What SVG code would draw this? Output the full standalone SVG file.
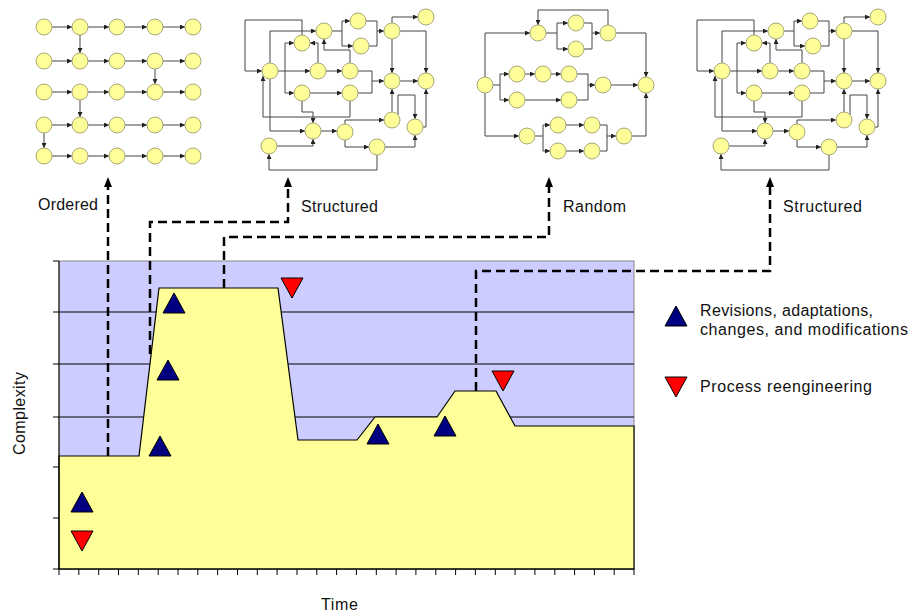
<svg xmlns="http://www.w3.org/2000/svg" xmlns:xlink="http://www.w3.org/1999/xlink" width="911" height="616" viewBox="0 0 911 616">
<style>
.e{fill:none;stroke:#444;stroke-width:1;marker-end:url(#na)}
.l{fill:none;stroke:#444;stroke-width:1}
.n{fill:#ffff99;stroke:#a8a878;stroke-width:1}
.t{font-family:"Liberation Sans",Arial,sans-serif;font-size:16px;fill:#111}
.d{fill:none;stroke:#000;stroke-width:2.5;stroke-dasharray:9 5;marker-end:url(#da)}
.up{fill:#000080;stroke:#000;stroke-width:1}
.dn{fill:#ff0000;stroke:#000;stroke-width:1}
.tk{fill:none;stroke:#000;stroke-width:1}
</style>
<defs>
<marker id="na" viewBox="0 0 6 6" refX="6" refY="3" markerWidth="5" markerHeight="5" orient="auto" markerUnits="userSpaceOnUse"><path d="M0,0 L6,3 L0,6 z" fill="#222"/></marker>
<marker id="da" viewBox="0 0 10 8" refX="0" refY="4" markerWidth="10" markerHeight="8" orient="auto" markerUnits="userSpaceOnUse"><path d="M0,0 L10,4 L0,8 z" fill="#000"/></marker>
<path id="tu" d="M0,-10 L11,10 L-11,10 z"/>
<path id="td" d="M-11,-10 L11,-10 L0,10 z"/>
</defs>
<rect width="911" height="616" fill="#fff"/>

<g id="ordered">
<path class="e" d="M52,27H72"/><path class="e" d="M88,27H109"/><path class="e" d="M125,27H147"/><path class="e" d="M163,27H185"/>
<path class="e" d="M52,61H72"/><path class="e" d="M88,61H109"/><path class="e" d="M125,61H147"/><path class="e" d="M163,61H185"/>
<path class="e" d="M52,92H72"/><path class="e" d="M88,92H109"/><path class="e" d="M125,92H147"/><path class="e" d="M163,92H185"/>
<path class="e" d="M52,125H72"/><path class="e" d="M88,125H109"/><path class="e" d="M125,125H147"/><path class="e" d="M163,125H185"/>
<path class="e" d="M52,156H72"/><path class="e" d="M88,156H109"/><path class="e" d="M125,156H147"/><path class="e" d="M163,156H185"/>
<path class="e" d="M80,35V53"/><path class="e" d="M155,69V84"/><path class="e" d="M80,100V117"/><path class="e" d="M44,133V148"/>
<g class="n">
<circle cx="44" cy="27" r="8"/><circle cx="80" cy="27" r="8"/><circle cx="117" cy="27" r="8"/><circle cx="155" cy="27" r="8"/><circle cx="193" cy="27" r="8"/>
<circle cx="44" cy="61" r="8"/><circle cx="80" cy="61" r="8"/><circle cx="117" cy="61" r="8"/><circle cx="155" cy="61" r="8"/><circle cx="193" cy="61" r="8"/>
<circle cx="44" cy="92" r="8"/><circle cx="80" cy="92" r="8"/><circle cx="117" cy="92" r="8"/><circle cx="155" cy="92" r="8"/><circle cx="193" cy="92" r="8"/>
<circle cx="44" cy="125" r="8"/><circle cx="80" cy="125" r="8"/><circle cx="117" cy="125" r="8"/><circle cx="155" cy="125" r="8"/><circle cx="193" cy="125" r="8"/>
<circle cx="44" cy="156" r="8"/><circle cx="80" cy="156" r="8"/><circle cx="117" cy="156" r="8"/><circle cx="155" cy="156" r="8"/><circle cx="193" cy="156" r="8"/>
</g>
</g>

<g id="structured1">
<path class="e" d="M302,35V20H245V71H262"/>
<path class="e" d="M270,63V31H316"/>
<path class="l" d="M332,31H342"/>
<path class="e" d="M342,31V21H350"/>
<path class="e" d="M342,31V46H353"/>
<path class="l" d="M366,21H377V31"/>
<path class="e" d="M369,46H377V31H384"/>
<path class="e" d="M392,23V17H418"/>
<path class="e" d="M400,31H426V73"/>
<path class="e" d="M392,39V73"/>
<path class="e" d="M400,81H418"/>
<path class="l" d="M285,43V93"/>
<path class="e" d="M285,43H294"/>
<path class="e" d="M285,93H294"/>
<path class="e" d="M318,63V43H310"/>
<path class="e" d="M350,63V50H324V39"/>
<path class="e" d="M278,71H310"/>
<path class="e" d="M326,71H342"/>
<path class="e" d="M358,71H372V81H384"/>
<path class="l" d="M358,93H372V81"/>
<path class="e" d="M310,93H342"/>
<path class="e" d="M302,101V112H313V123"/>
<path class="e" d="M350,101V117H263V76"/>
<path class="e" d="M270,79V131H305"/>
<path class="e" d="M321,131H337"/>
<path class="e" d="M345,124V120H384"/>
<path class="e" d="M345,140V147H369"/>
<path class="e" d="M277,146H313V139"/>
<path class="e" d="M377,155V170H269V154"/>
<path class="e" d="M385,147H415V135"/>
<path class="e" d="M392,112V89"/>
<path class="e" d="M398,115V95H415V119"/>
<path class="e" d="M423,127H426V89"/>
<g class="n">
<circle cx="358" cy="21" r="8"/><circle cx="361" cy="46" r="8"/><circle cx="324" cy="31" r="8"/><circle cx="302" cy="43" r="8"/>
<circle cx="392" cy="31" r="8"/><circle cx="426" cy="17" r="8"/><circle cx="270" cy="71" r="8"/><circle cx="318" cy="71" r="8"/>
<circle cx="350" cy="71" r="8"/><circle cx="392" cy="81" r="8"/><circle cx="426" cy="81" r="8"/><circle cx="302" cy="93" r="8"/>
<circle cx="350" cy="93" r="8"/><circle cx="392" cy="120" r="8"/><circle cx="415" cy="127" r="8"/><circle cx="313" cy="131" r="8"/>
<circle cx="345" cy="132" r="8"/><circle cx="269" cy="146" r="8"/><circle cx="377" cy="147" r="8"/>
</g>
</g>

<g id="random">
<path class="e" d="M485,77V33H530"/>
<path class="l" d="M546,33H557"/>
<path class="e" d="M557,33V23H568"/>
<path class="e" d="M557,33V49H568"/>
<path class="l" d="M584,23H592V49H584"/>
<path class="e" d="M592,33H600"/>
<path class="e" d="M608,25V10H538V25"/>
<path class="e" d="M616,33H646V77"/>
<path class="l" d="M493,85H500"/>
<path class="e" d="M500,85V74H509"/>
<path class="e" d="M500,85V100H509"/>
<path class="e" d="M525,74H535"/>
<path class="e" d="M551,74H561"/>
<path class="l" d="M577,74H588V100H577"/>
<path class="e" d="M588,85H595"/>
<path class="e" d="M525,100H561"/>
<path class="e" d="M611,85H638"/>
<path class="e" d="M485,93V136H519"/>
<path class="l" d="M535,136H543"/>
<path class="e" d="M543,136V125H550"/>
<path class="e" d="M543,136V151H550"/>
<path class="e" d="M566,125H584"/>
<path class="e" d="M566,151H584"/>
<path class="l" d="M600,125H607V151H600"/>
<path class="e" d="M607,136H616"/>
<path class="e" d="M632,136H646V93"/>
<g class="n">
<circle cx="538" cy="33" r="8"/><circle cx="576" cy="23" r="8"/><circle cx="576" cy="49" r="8"/><circle cx="608" cy="33" r="8"/>
<circle cx="485" cy="85" r="8"/><circle cx="517" cy="74" r="8"/><circle cx="543" cy="74" r="8"/><circle cx="569" cy="74" r="8"/>
<circle cx="517" cy="100" r="8"/><circle cx="569" cy="100" r="8"/><circle cx="603" cy="85" r="8"/><circle cx="646" cy="85" r="8"/>
<circle cx="527" cy="136" r="8"/><circle cx="558" cy="125" r="8"/><circle cx="592" cy="125" r="8"/><circle cx="558" cy="151" r="8"/>
<circle cx="592" cy="151" r="8"/><circle cx="624" cy="136" r="8"/>
</g>
</g>

<g id="structured2">
<use xlink:href="#structured1" href="#structured1" transform="translate(452,0)"/>
</g>

<g id="chart">
<rect x="59" y="261" width="575" height="308" fill="#ccccff" stroke="#888" stroke-width="1"/>
<path class="tk" d="M59,312H634M59,364H634M59,417H634"/>
<polygon points="59,456 139,456 159,288 278,288 298,440 357,440 375,417 437,417 455,391 496,391 515,426 634,426 634,569 59,569" fill="#ffff99" stroke="#000" stroke-width="1.2"/>
<path class="tk" d="M59,261V569H634"/>
<path class="tk" d="M53,261H59M53,312H59M53,364H59M53,417H59M53,467H59M53,518H59M53,569H59"/>
<path class="tk" d="M59,569v6M78.8,569v6M98.7,569v6M118.5,569v6M138.3,569v6M158.2,569v6M178,569v6M197.8,569v6M217.6,569v6M237.5,569v6M257.3,569v6M277.1,569v6M297,569v6M316.8,569v6M336.6,569v6M356.4,569v6M376.3,569v6M396.1,569v6M415.9,569v6M435.8,569v6M455.6,569v6M475.4,569v6M495.3,569v6M515.1,569v6M534.9,569v6M554.8,569v6M574.6,569v6M594.4,569v6M614.2,569v6M634,569v6"/>
<use href="#tu" xlink:href="#tu" class="up" x="174" y="303"/>
<use href="#tu" xlink:href="#tu" class="up" x="168" y="370"/>
<use href="#tu" xlink:href="#tu" class="up" x="160" y="446"/>
<use href="#tu" xlink:href="#tu" class="up" x="82" y="502"/>
<use href="#tu" xlink:href="#tu" class="up" x="378" y="434"/>
<use href="#tu" xlink:href="#tu" class="up" x="445" y="426"/>
<use href="#td" xlink:href="#td" class="dn" x="82" y="541"/>
<use href="#td" xlink:href="#td" class="dn" x="292" y="288"/>
<use href="#td" xlink:href="#td" class="dn" x="503" y="381"/>
<text class="t" x="321" y="610" textLength="37">Time</text>
<text class="t" transform="translate(25,455) rotate(-90)" textLength="83">Complexity</text>
</g>

<g id="legend">
<use href="#tu" xlink:href="#tu" class="up" x="676" y="316"/>
<use href="#td" xlink:href="#td" class="dn" x="676" y="387"/>
<text class="t" x="700" y="316" textLength="173">Revisions, adaptations,</text>
<text class="t" x="700" y="335" textLength="208">changes, and modifications</text>
<text class="t" x="700" y="392" textLength="172">Process reengineering</text>
</g>

<g id="labels">
<text class="t" x="38" y="210" textLength="60">Ordered</text>
<text class="t" x="301" y="212" textLength="77">Structured</text>
<text class="t" x="563" y="212" textLength="63">Random</text>
<text class="t" x="783" y="212" textLength="79">Structured</text>
</g>

<g id="connectors">
<path class="d" d="M108,456V187"/>
<path class="d" d="M150,354V222H288V187"/>
<path class="d" d="M224,288V237H549V187"/>
<path class="d" d="M476,391V271H770V187"/>
</g>
</svg>
